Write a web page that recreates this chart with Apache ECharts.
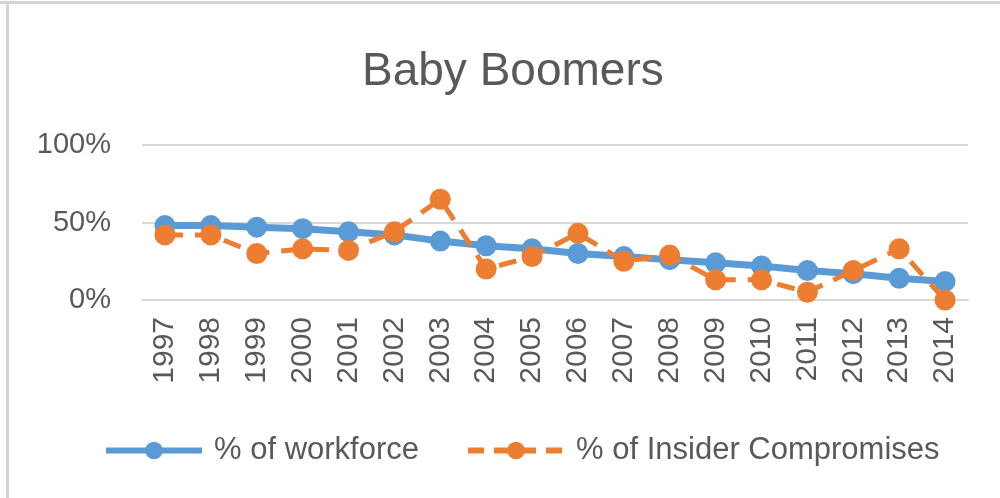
<!DOCTYPE html>
<html><head><meta charset="utf-8">
<script src="https://cdn.jsdelivr.net/npm/echarts@6/dist/echarts.min.js"></script>
<style>html,body{margin:0;padding:0;background:#fff}#c{width:1000px;height:498px}</style>
</head><body><div id="c"></div>
<script>
const years = ['1997','1998','1999','2000','2001','2002','2003','2004','2005','2006','2007','2008','2009','2010','2011','2012','2013','2014'];
const workforce = [48,48,47,46,44,42,38,35,33,30,28,26,24,22,19,17,14,12];
const insider = [42,42,30,33,32,44,65,20,28,43,25,29,13,13,5,19,33,0];
const yTicks = [0,50,100];

const txt = '#595959';
const font = 'Liberation Sans';
const chart = echarts.init(document.getElementById('c'), null, {renderer:'canvas'});
chart.setOption({
  animation:false,
  backgroundColor:'#fff',
  title:{text:'Baby Boomers',left:357,top:44,textStyle:{fontFamily:font,fontSize:46,fontWeight:'normal',color:txt}},
  grid:{left:142,right:32,top:145,bottom:198},
  legend:{bottom:32,left:103,padding:0,itemWidth:96,itemHeight:22,itemGap:46,
    textStyle:{fontFamily:font,fontSize:31,color:txt,padding:[0,0,0,7]},
    data:[
      {name:'% of workforce',lineStyle:{width:6,color:'#5B9BD5'}},
      {name:'% of Insider Compromises',lineStyle:{width:6,color:'#ED7D31',type:[16,10]}}
    ]},
  xAxis:{type:'category',data:years,boundaryGap:true,
    axisLine:{lineStyle:{color:'#d9d9d9',width:2}},axisTick:{show:false},
    axisLabel:{rotate:90,margin:17,fontFamily:font,fontSize:30,color:txt,interval:0}},
  yAxis:{type:'value',min:yTicks[0],max:yTicks[yTicks.length-1],interval:50,
    axisLine:{show:false},axisTick:{show:false},
    splitLine:{lineStyle:{color:'#d9d9d9',width:2}},
    axisLabel:{formatter:'{value}%',margin:31,fontFamily:font,fontSize:29,color:txt}},
  series:[
    {name:'% of workforce',type:'line',data:workforce,symbol:'circle',symbolSize:21,
      lineStyle:{color:'#5B9BD5',width:7},itemStyle:{color:'#5B9BD5'},z:2},
    {name:'% of Insider Compromises',type:'line',data:insider,symbol:'circle',symbolSize:21,
      lineStyle:{color:'#ED7D31',width:5,type:[18,12]},itemStyle:{color:'#ED7D31'},z:3}
  ],
  graphic:[
    {type:'line',shape:{x1:0,y1:2.5,x2:1000,y2:2.5},style:{stroke:'#d4d4d4',lineWidth:3},silent:true},
    {type:'line',shape:{x1:7.5,y1:1,x2:7.5,y2:498},style:{stroke:'#d4d4d4',lineWidth:3},silent:true}
  ]
});
</script></body></html>
